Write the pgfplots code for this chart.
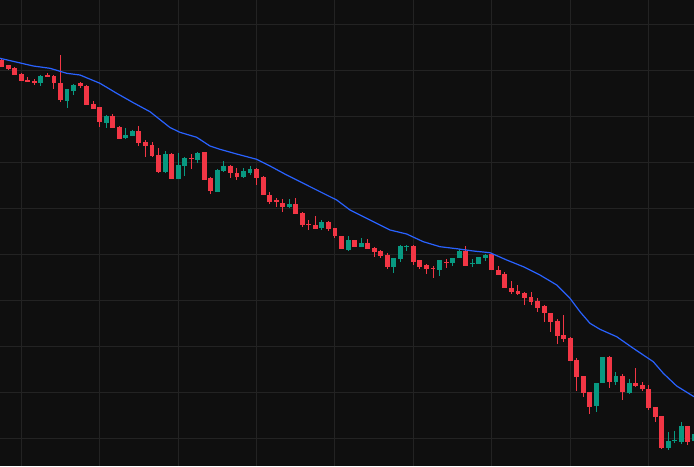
\documentclass[border=0pt]{standalone}
\usepackage{pgfplots}
\usepackage{pgfplotstable}
\pgfplotsset{compat=1.18}
\definecolor{bgc}{HTML}{0F0F0F}
\definecolor{gridc}{HTML}{232323}
\definecolor{cred}{HTML}{F23645}
\definecolor{cgreen}{HTML}{089981}
\definecolor{cblue}{HTML}{2962FF}
% columns: i = bar index, wt/wb = wick top/bottom, bt/bb = body top/bottom (chart units, down = larger)
\pgfplotstableread{
i wt wb bt bb
0 59 67 60 66.7
1 65 70 65 69
2 67 74.7 68 74.7
3 73 80.7 74 80.7
4 77 82 80 81.7
5 79 84.7 81 82.7
7 73 76.7 75.3 76.7
8 75 88.7 76 82.7
9 55 102 83 100
12 82 87.7 83.3 85.7
13 85.3 104.7 86 104.7
14 101 108.7 104 108.7
15 107 126.7 107 121.7
17 114 127.7 116 127.7
18 126 138.7 127 138.7
21 126 145.7 131 142.7
22 140 156.7 142 145.7
23 142 156.7 145 155.7
24 148 172.7 155 172
26 153 178.7 154 178.7
29 154 169 158 159.3
31 152 180 152 180
32 177 194 178 191
35 165 178 166 173
36 168 180 173 177
39 168 185 169 178
40 176 195 177 195
41 192 204 195 202
42 198 207 200.3 201.7
43 199 212 203 207
45 198 214 204 214
46 212 227 213 225
47 220 230 224 225
48 216 229 225 229
50 221 231 222 229
51 228 238 228 236
52 236 249 236 249
54 240 247 240 247
56 239 249 243 249
57 247 257 248 252
58 250 258 251 256
59 253 269 255 267
63 245 265 246 262
64 260 269 260 267
65 264 274 265 269
66 266 278 268 269
68 259 268 262 263
71 246 266 251 266
75 253 270 254 270
76 266 275 270 275
77 272 288 274 288
78 281 294 288 292
79 285 295 291 294
80 292 305 293 297.7
81 292 304.7 297 302
82 298 312 301 307.7
83 305 322 306 313
84 313 332 313 322
85 319 344 321 336
86 315 342 335 339
87 337 360.7 338 360.7
88 358 391 360 377
89 376 397 376 392.7
90 392 414 392 406.7
93 356 388 357 382
95 374 400 376 392
97 368 387 383 386
98 382 391 385 389
99 385 409.7 389 407.7
100 407 421.7 407 416.7
101 416 448.7 416 447.7
105 426 445 426 442
}\redtable
\pgfplotstableread{
i wt wb bt bb
6 75 85.7 76 82.7
10 89 107.7 89 100.7
11 84.3 94.7 85.3 90.7
16 115 128 116 122.7
19 128 139 135 137.7
20 129.7 135.7 130.7 135.7
25 151 172.7 154 172
27 153 178.7 165 178.7
28 157 175.7 158 166
30 152 163 153 160
33 169 192 170 192
34 161 172 166 171
37 168 178 171 177
38 166 175 169 173
44 199 208 204 207
49 220 230 222 228
53 236 251 240 250
55 238 247 243 247
60 258 273 258 267
61 245 262 246 259
62 245 251 246 247
67 260 276 260 270
69 258 266 258 263
70 249 258 251 258
72 259 267 263 264
73 257 264 257 264
74 254 261 255 258
91 383 412 383 405.7
92 357 382.7 357 382.7
94 372 385 376 382
96 379 394 383 393
102 432 449.7 441 447.7
103 431 442.7 440 441
104 422 444 426 442
106 434 441 434 441
}\greentable
\begin{document}
\begin{tikzpicture}
\begin{axis}[
  width=347pt, height=233pt, scale only axis,
  xmin=-0.26, xmax=105.94, ymin=0, ymax=466, y dir=reverse,
  xtick={3,15,27,39,51,63,75,87,99},
  ytick={24.3,70.3,116.3,162.3,208.3,254.3,300.3,346.3,392.3,438.3},
  xticklabels={}, yticklabels={},
  major tick length=0pt,
  grid=major, major grid style={color=gridc, line width=0.5pt},
  axis line style={draw=none},
  axis background/.style={fill=bgc},
  clip=true,
]
% wicks
\addplot[draw=none, mark=none, error bars/.cd, y dir=plus, y explicit, error mark=none,
  error bar style={draw=cred, line width=0.5pt}]
  table[x=i, y=wt, y error plus expr={\thisrow{wb}-\thisrow{wt}}] {\redtable};
\addplot[draw=none, mark=none, error bars/.cd, y dir=plus, y explicit, error mark=none,
  error bar style={draw=cgreen, line width=0.5pt}]
  table[x=i, y=wt, y error plus expr={\thisrow{wb}-\thisrow{wt}}] {\greentable};
% bodies
\addplot[draw=none, mark=none, error bars/.cd, y dir=plus, y explicit, error mark=none,
  error bar style={draw=cred, line width=2.45pt}]
  table[x=i, y=bt, y error plus expr={\thisrow{bb}-\thisrow{bt}}] {\redtable};
\addplot[draw=none, mark=none, error bars/.cd, y dir=plus, y explicit, error mark=none,
  error bar style={draw=cgreen, line width=2.45pt}]
  table[x=i, y=bt, y error plus expr={\thisrow{bb}-\thisrow{bt}}] {\greentable};
% moving average
\addplot[color=cblue, line width=0.6pt, mark=none] coordinates {
(-0.26,58.3) (4.84,66) (7.39,68.3) (9.95,73.3) (11.98,75) (15.04,83.3)
(17.60,93.3) (20.14,102.7) (22.69,111.7) (25.75,127.5) (27.28,132.3)
(29.84,137.3) (31.87,146) (33.40,149.3) (35.96,154) (39.02,159.3)
(41.06,166) (43.61,175) (46.15,183.3) (48.71,191.7) (51.26,200)
(53.30,210) (56.36,220) (59.42,230) (61.97,234) (64.51,241.7)
(67.07,246.7) (69.62,248.7) (72.17,251) (74.72,252.7) (77.28,260)
(79.82,266.7) (82.37,275) (84.93,285) (86.96,298.3) (88.49,311.7)
(90.02,323.3) (91.55,329.3) (94.11,336.7) (96.65,348.3) (99.71,361.7)
(101.24,373.3) (103.29,386) (105.94,396.7)
};
\end{axis}
\pgfresetboundingbox
\useasboundingbox (current axis.south west) rectangle (current axis.north east);
\end{tikzpicture}
\end{document}
